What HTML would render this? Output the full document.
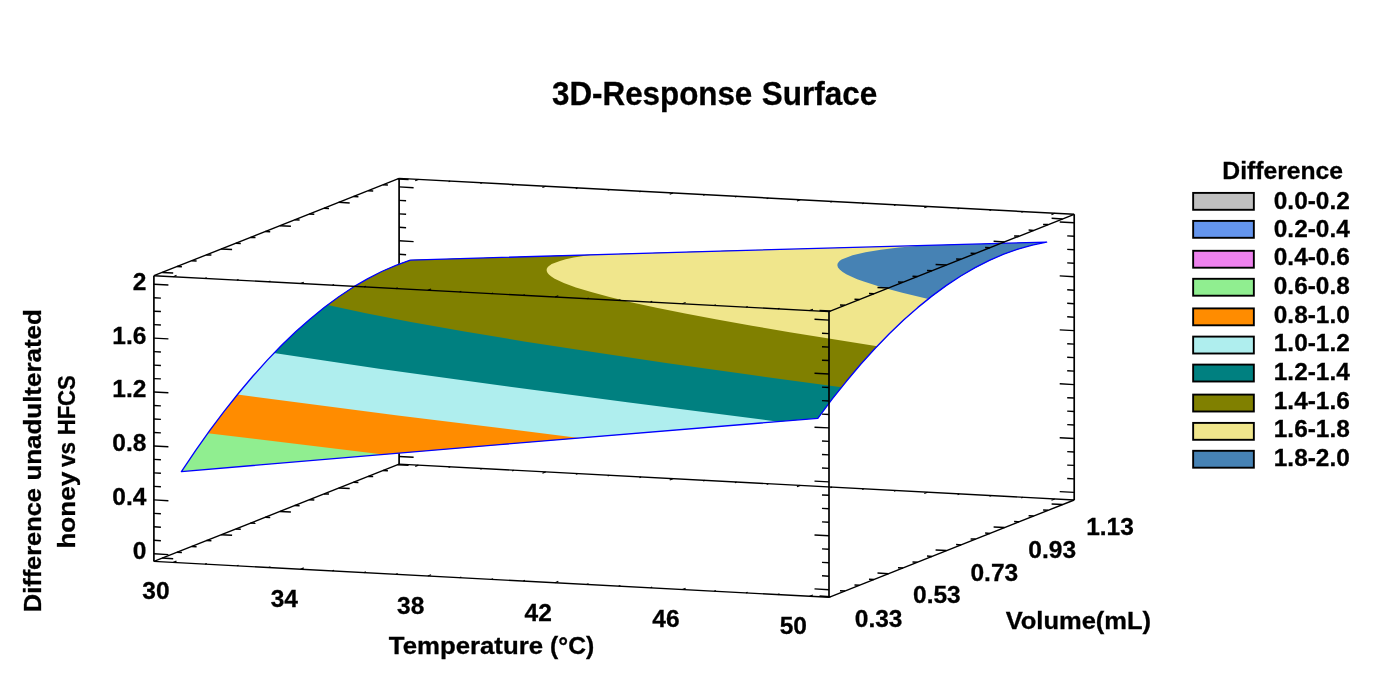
<!DOCTYPE html>
<html lang="en"><head><meta charset="utf-8"><title>3D-Response Surface</title>
<style>html,body{margin:0;padding:0;background:#fff}body{width:1383px;height:690px;overflow:hidden}svg{display:block}</style></head>
<body>
<svg width="1383" height="690" viewBox="0 0 1383 690">
<rect width="1383" height="690" fill="#fff"/>
<g stroke="#000" stroke-linecap="butt" fill="none"><line x1="399.1" y1="178.4" x2="399.1" y2="464.1" stroke-width="1.7"/><line x1="399.1" y1="456.5" x2="413.6" y2="457.3" stroke-width="1.4"/><line x1="399.1" y1="443" x2="406.1" y2="443.4" stroke-width="1.4"/><line x1="399.1" y1="429.5" x2="406.1" y2="429.9" stroke-width="1.4"/><line x1="399.1" y1="416.1" x2="406.1" y2="416.4" stroke-width="1.4"/><line x1="399.1" y1="402.6" x2="413.6" y2="403.4" stroke-width="1.4"/><line x1="399.1" y1="389.1" x2="406.1" y2="389.5" stroke-width="1.4"/><line x1="399.1" y1="375.6" x2="406.1" y2="376" stroke-width="1.4"/><line x1="399.1" y1="362.1" x2="406.1" y2="362.5" stroke-width="1.4"/><line x1="399.1" y1="348.7" x2="413.6" y2="349.4" stroke-width="1.4"/><line x1="399.1" y1="335.2" x2="406.1" y2="335.6" stroke-width="1.4"/><line x1="399.1" y1="321.7" x2="406.1" y2="322.1" stroke-width="1.4"/><line x1="399.1" y1="308.2" x2="406.1" y2="308.6" stroke-width="1.4"/><line x1="399.1" y1="294.7" x2="413.6" y2="295.5" stroke-width="1.4"/><line x1="399.1" y1="281.3" x2="406.1" y2="281.6" stroke-width="1.4"/><line x1="399.1" y1="267.8" x2="406.1" y2="268.2" stroke-width="1.4"/><line x1="399.1" y1="254.3" x2="406.1" y2="254.7" stroke-width="1.4"/><line x1="399.1" y1="240.8" x2="413.6" y2="241.6" stroke-width="1.4"/><line x1="399.1" y1="227.3" x2="406.1" y2="227.7" stroke-width="1.4"/><line x1="399.1" y1="213.9" x2="406.1" y2="214.2" stroke-width="1.4"/><line x1="399.1" y1="200.4" x2="406.1" y2="200.8" stroke-width="1.4"/><line x1="399.1" y1="186.9" x2="413.6" y2="187.7" stroke-width="1.4"/><line x1="399.1" y1="464.1" x2="1074.2" y2="500" stroke-width="1.4"/><line x1="418.4" y1="465.1" x2="415.2" y2="466.4" stroke-width="1.2"/><line x1="450.2" y1="466.8" x2="448.6" y2="467.5" stroke-width="1.2"/><line x1="482.1" y1="468.5" x2="480.4" y2="469.2" stroke-width="1.2"/><line x1="513.9" y1="470.2" x2="512.2" y2="470.9" stroke-width="1.2"/><line x1="545.7" y1="471.9" x2="542.4" y2="473.2" stroke-width="1.2"/><line x1="577.5" y1="473.6" x2="575.8" y2="474.3" stroke-width="1.2"/><line x1="609.3" y1="475.3" x2="607.7" y2="475.9" stroke-width="1.2"/><line x1="641.1" y1="477" x2="639.5" y2="477.6" stroke-width="1.2"/><line x1="673" y1="478.7" x2="669.7" y2="480" stroke-width="1.2"/><line x1="704.8" y1="480.4" x2="703.1" y2="481" stroke-width="1.2"/><line x1="736.6" y1="482.1" x2="734.9" y2="482.7" stroke-width="1.2"/><line x1="768.4" y1="483.7" x2="766.7" y2="484.4" stroke-width="1.2"/><line x1="800.2" y1="485.4" x2="797" y2="486.7" stroke-width="1.2"/><line x1="832.1" y1="487.1" x2="830.4" y2="487.8" stroke-width="1.2"/><line x1="863.9" y1="488.8" x2="862.2" y2="489.5" stroke-width="1.2"/><line x1="895.7" y1="490.5" x2="894" y2="491.2" stroke-width="1.2"/><line x1="927.5" y1="492.2" x2="924.3" y2="493.5" stroke-width="1.2"/><line x1="959.3" y1="493.9" x2="957.6" y2="494.6" stroke-width="1.2"/><line x1="991.1" y1="495.6" x2="989.5" y2="496.2" stroke-width="1.2"/><line x1="1023" y1="497.3" x2="1021.3" y2="497.9" stroke-width="1.2"/><line x1="1054.8" y1="499" x2="1051.5" y2="500.3" stroke-width="1.2"/><line x1="153.9" y1="561.4" x2="399.1" y2="464.1" stroke-width="1.4"/><line x1="162.2" y1="558.1" x2="173.2" y2="558.7" stroke-width="1.5"/><line x1="176.9" y1="552.3" x2="181.9" y2="552.5" stroke-width="1.5"/><line x1="191.7" y1="546.4" x2="196.6" y2="546.7" stroke-width="1.5"/><line x1="206.4" y1="540.6" x2="211.4" y2="540.8" stroke-width="1.5"/><line x1="221.1" y1="534.7" x2="232.1" y2="535.3" stroke-width="1.5"/><line x1="235.8" y1="528.9" x2="240.8" y2="529.2" stroke-width="1.5"/><line x1="250.5" y1="523.1" x2="255.5" y2="523.3" stroke-width="1.5"/><line x1="265.2" y1="517.2" x2="270.2" y2="517.5" stroke-width="1.5"/><line x1="279.9" y1="511.4" x2="290.9" y2="512" stroke-width="1.5"/><line x1="294.6" y1="505.5" x2="299.6" y2="505.8" stroke-width="1.5"/><line x1="309.3" y1="499.7" x2="314.3" y2="500" stroke-width="1.5"/><line x1="324" y1="493.9" x2="329" y2="494.1" stroke-width="1.5"/><line x1="338.7" y1="488" x2="349.7" y2="488.6" stroke-width="1.5"/><line x1="353.5" y1="482.2" x2="358.4" y2="482.5" stroke-width="1.5"/><line x1="368.2" y1="476.4" x2="373.2" y2="476.6" stroke-width="1.5"/><line x1="382.9" y1="470.5" x2="387.9" y2="470.8" stroke-width="1.5"/><line x1="397.6" y1="464.7" x2="408.6" y2="465.3" stroke-width="1.5"/><line x1="399.1" y1="178.4" x2="1074.2" y2="214.3" stroke-width="1.4"/><line x1="418.4" y1="179.4" x2="415.2" y2="180.7" stroke-width="1.2"/><line x1="450.2" y1="181.1" x2="448.6" y2="181.8" stroke-width="1.2"/><line x1="482.1" y1="182.8" x2="480.4" y2="183.5" stroke-width="1.2"/><line x1="513.9" y1="184.5" x2="512.2" y2="185.2" stroke-width="1.2"/><line x1="545.7" y1="186.2" x2="542.4" y2="187.5" stroke-width="1.2"/><line x1="577.5" y1="187.9" x2="575.8" y2="188.6" stroke-width="1.2"/><line x1="609.3" y1="189.6" x2="607.7" y2="190.2" stroke-width="1.2"/><line x1="641.1" y1="191.3" x2="639.5" y2="191.9" stroke-width="1.2"/><line x1="673" y1="193" x2="669.7" y2="194.3" stroke-width="1.2"/><line x1="704.8" y1="194.7" x2="703.1" y2="195.3" stroke-width="1.2"/><line x1="736.6" y1="196.4" x2="734.9" y2="197" stroke-width="1.2"/><line x1="768.4" y1="198" x2="766.7" y2="198.7" stroke-width="1.2"/><line x1="800.2" y1="199.7" x2="797" y2="201" stroke-width="1.2"/><line x1="832.1" y1="201.4" x2="830.4" y2="202.1" stroke-width="1.2"/><line x1="863.9" y1="203.1" x2="862.2" y2="203.8" stroke-width="1.2"/><line x1="895.7" y1="204.8" x2="894" y2="205.5" stroke-width="1.2"/><line x1="927.5" y1="206.5" x2="924.3" y2="207.8" stroke-width="1.2"/><line x1="959.3" y1="208.2" x2="957.6" y2="208.9" stroke-width="1.2"/><line x1="991.1" y1="209.9" x2="989.5" y2="210.5" stroke-width="1.2"/><line x1="1023" y1="211.6" x2="1021.3" y2="212.2" stroke-width="1.2"/><line x1="1054.8" y1="213.3" x2="1051.5" y2="214.6" stroke-width="1.2"/><line x1="153.9" y1="275.7" x2="399.1" y2="178.4" stroke-width="1.4"/><line x1="162.2" y1="272.4" x2="173.2" y2="273" stroke-width="1.5"/><line x1="176.9" y1="266.6" x2="181.9" y2="266.8" stroke-width="1.5"/><line x1="191.7" y1="260.7" x2="196.6" y2="261" stroke-width="1.5"/><line x1="206.4" y1="254.9" x2="211.4" y2="255.1" stroke-width="1.5"/><line x1="221.1" y1="249" x2="232.1" y2="249.6" stroke-width="1.5"/><line x1="235.8" y1="243.2" x2="240.8" y2="243.5" stroke-width="1.5"/><line x1="250.5" y1="237.4" x2="255.5" y2="237.6" stroke-width="1.5"/><line x1="265.2" y1="231.5" x2="270.2" y2="231.8" stroke-width="1.5"/><line x1="279.9" y1="225.7" x2="290.9" y2="226.3" stroke-width="1.5"/><line x1="294.6" y1="219.8" x2="299.6" y2="220.1" stroke-width="1.5"/><line x1="309.3" y1="214" x2="314.3" y2="214.3" stroke-width="1.5"/><line x1="324" y1="208.2" x2="329" y2="208.4" stroke-width="1.5"/><line x1="338.7" y1="202.3" x2="349.7" y2="202.9" stroke-width="1.5"/><line x1="353.5" y1="196.5" x2="358.4" y2="196.8" stroke-width="1.5"/><line x1="368.2" y1="190.7" x2="373.2" y2="190.9" stroke-width="1.5"/><line x1="382.9" y1="184.8" x2="387.9" y2="185.1" stroke-width="1.5"/><line x1="397.6" y1="179" x2="408.6" y2="179.6" stroke-width="1.5"/><line x1="1074.2" y1="214.3" x2="1074.2" y2="500" stroke-width="1.7"/><line x1="1074.2" y1="492.4" x2="1059.7" y2="491.6" stroke-width="1.4"/><line x1="1074.2" y1="478.9" x2="1067.2" y2="478.5" stroke-width="1.4"/><line x1="1074.2" y1="465.4" x2="1067.2" y2="465.1" stroke-width="1.4"/><line x1="1074.2" y1="452" x2="1067.2" y2="451.6" stroke-width="1.4"/><line x1="1074.2" y1="438.5" x2="1059.7" y2="437.7" stroke-width="1.4"/><line x1="1074.2" y1="425" x2="1067.2" y2="424.6" stroke-width="1.4"/><line x1="1074.2" y1="411.5" x2="1067.2" y2="411.1" stroke-width="1.4"/><line x1="1074.2" y1="398" x2="1067.2" y2="397.7" stroke-width="1.4"/><line x1="1074.2" y1="384.6" x2="1059.7" y2="383.8" stroke-width="1.4"/><line x1="1074.2" y1="371.1" x2="1067.2" y2="370.7" stroke-width="1.4"/><line x1="1074.2" y1="357.6" x2="1067.2" y2="357.2" stroke-width="1.4"/><line x1="1074.2" y1="344.1" x2="1067.2" y2="343.7" stroke-width="1.4"/><line x1="1074.2" y1="330.6" x2="1059.7" y2="329.9" stroke-width="1.4"/><line x1="1074.2" y1="317.2" x2="1067.2" y2="316.8" stroke-width="1.4"/><line x1="1074.2" y1="303.7" x2="1067.2" y2="303.3" stroke-width="1.4"/><line x1="1074.2" y1="290.2" x2="1067.2" y2="289.8" stroke-width="1.4"/><line x1="1074.2" y1="276.7" x2="1059.7" y2="275.9" stroke-width="1.4"/><line x1="1074.2" y1="263.2" x2="1067.2" y2="262.9" stroke-width="1.4"/><line x1="1074.2" y1="249.8" x2="1067.2" y2="249.4" stroke-width="1.4"/><line x1="1074.2" y1="236.3" x2="1067.2" y2="235.9" stroke-width="1.4"/><line x1="1074.2" y1="222.8" x2="1059.7" y2="222" stroke-width="1.4"/><line x1="153.9" y1="561.4" x2="829" y2="597.3" stroke-width="1.4"/><line x1="173.3" y1="562.4" x2="176.5" y2="561.1" stroke-width="1.2"/><line x1="205.1" y1="564.1" x2="206.8" y2="563.5" stroke-width="1.2"/><line x1="236.9" y1="565.8" x2="238.6" y2="565.2" stroke-width="1.2"/><line x1="268.7" y1="567.5" x2="270.4" y2="566.8" stroke-width="1.2"/><line x1="300.5" y1="569.2" x2="303.8" y2="567.9" stroke-width="1.2"/><line x1="332.4" y1="570.9" x2="334" y2="570.2" stroke-width="1.2"/><line x1="364.2" y1="572.6" x2="365.9" y2="571.9" stroke-width="1.2"/><line x1="396" y1="574.3" x2="397.7" y2="573.6" stroke-width="1.2"/><line x1="427.8" y1="576" x2="431.1" y2="574.7" stroke-width="1.2"/><line x1="459.6" y1="577.7" x2="461.3" y2="577" stroke-width="1.2"/><line x1="491.5" y1="579.4" x2="493.1" y2="578.7" stroke-width="1.2"/><line x1="523.3" y1="581" x2="524.9" y2="580.4" stroke-width="1.2"/><line x1="555.1" y1="582.7" x2="558.3" y2="581.4" stroke-width="1.2"/><line x1="586.9" y1="584.4" x2="588.6" y2="583.8" stroke-width="1.2"/><line x1="618.7" y1="586.1" x2="620.4" y2="585.5" stroke-width="1.2"/><line x1="650.5" y1="587.8" x2="652.2" y2="587.1" stroke-width="1.2"/><line x1="682.4" y1="589.5" x2="685.6" y2="588.2" stroke-width="1.2"/><line x1="714.2" y1="591.2" x2="715.8" y2="590.5" stroke-width="1.2"/><line x1="746" y1="592.9" x2="747.7" y2="592.2" stroke-width="1.2"/><line x1="777.8" y1="594.6" x2="779.5" y2="593.9" stroke-width="1.2"/><line x1="809.6" y1="596.3" x2="812.9" y2="595" stroke-width="1.2"/><line x1="829" y1="597.3" x2="1074.2" y2="500" stroke-width="1.4"/><line x1="830.5" y1="596.7" x2="819.5" y2="596.1" stroke-width="1.5"/><line x1="845" y1="591" x2="840" y2="590.7" stroke-width="1.5"/><line x1="859.5" y1="585.2" x2="854.5" y2="584.9" stroke-width="1.5"/><line x1="874" y1="579.4" x2="869" y2="579.2" stroke-width="1.5"/><line x1="888.5" y1="573.7" x2="877.5" y2="573.1" stroke-width="1.5"/><line x1="903" y1="567.9" x2="898" y2="567.7" stroke-width="1.5"/><line x1="917.5" y1="562.2" x2="912.5" y2="561.9" stroke-width="1.5"/><line x1="932" y1="556.4" x2="927" y2="556.1" stroke-width="1.5"/><line x1="946.5" y1="550.6" x2="935.6" y2="550.1" stroke-width="1.5"/><line x1="961.1" y1="544.9" x2="956.1" y2="544.6" stroke-width="1.5"/><line x1="975.6" y1="539.1" x2="970.6" y2="538.9" stroke-width="1.5"/><line x1="990.1" y1="533.4" x2="985.1" y2="533.1" stroke-width="1.5"/><line x1="1004.6" y1="527.6" x2="993.6" y2="527" stroke-width="1.5"/><line x1="1019.1" y1="521.8" x2="1014.1" y2="521.6" stroke-width="1.5"/><line x1="1033.6" y1="516.1" x2="1028.6" y2="515.8" stroke-width="1.5"/><line x1="1048.1" y1="510.3" x2="1043.1" y2="510.1" stroke-width="1.5"/><line x1="1062.6" y1="504.6" x2="1051.6" y2="504" stroke-width="1.5"/><line x1="153.9" y1="275.7" x2="153.9" y2="561.4" stroke-width="1.7"/><line x1="153.9" y1="553.8" x2="168.4" y2="554.6" stroke-width="1.4"/><line x1="153.9" y1="540.3" x2="160.9" y2="540.7" stroke-width="1.4"/><line x1="153.9" y1="526.8" x2="160.9" y2="527.2" stroke-width="1.4"/><line x1="153.9" y1="513.4" x2="160.9" y2="513.7" stroke-width="1.4"/><line x1="153.9" y1="499.9" x2="168.4" y2="500.7" stroke-width="1.4"/><line x1="153.9" y1="486.4" x2="160.9" y2="486.8" stroke-width="1.4"/><line x1="153.9" y1="472.9" x2="160.9" y2="473.3" stroke-width="1.4"/><line x1="153.9" y1="459.4" x2="160.9" y2="459.8" stroke-width="1.4"/><line x1="153.9" y1="446" x2="168.4" y2="446.7" stroke-width="1.4"/><line x1="153.9" y1="432.5" x2="160.9" y2="432.9" stroke-width="1.4"/><line x1="153.9" y1="419" x2="160.9" y2="419.4" stroke-width="1.4"/><line x1="153.9" y1="405.5" x2="160.9" y2="405.9" stroke-width="1.4"/><line x1="153.9" y1="392" x2="168.4" y2="392.8" stroke-width="1.4"/><line x1="153.9" y1="378.6" x2="160.9" y2="378.9" stroke-width="1.4"/><line x1="153.9" y1="365.1" x2="160.9" y2="365.5" stroke-width="1.4"/><line x1="153.9" y1="351.6" x2="160.9" y2="352" stroke-width="1.4"/><line x1="153.9" y1="338.1" x2="168.4" y2="338.9" stroke-width="1.4"/><line x1="153.9" y1="324.6" x2="160.9" y2="325" stroke-width="1.4"/><line x1="153.9" y1="311.2" x2="160.9" y2="311.5" stroke-width="1.4"/><line x1="153.9" y1="297.7" x2="160.9" y2="298.1" stroke-width="1.4"/><line x1="153.9" y1="284.2" x2="168.4" y2="285" stroke-width="1.4"/></g>
<g><polygon points="181.4,471.6 499.6,444.6 817.8,418.3 832.1,399.2 846.4,381.3 860.7,364.3 875,348.5 889.3,333.7 903.6,320.1 917.9,307.4 932.2,295.9 946.5,285.4 960.8,276 975.1,267.7 989.4,260.4 1003.7,254.2 1018,249.1 1032.3,245.1 1046.6,242.1 728.5,250.8 410.3,260.1 396,265.3 381.7,271.5 367.4,278.8 353.1,287.2 338.8,296.7 324.5,307.3 310.2,318.9 295.9,331.6 281.6,345.3 267.3,360.1 253,376 238.7,393 224.3,411.1 210,430.2 195.7,450.4" fill="#90EE90"/><polygon points="207.8,433.3 383.5,454.4 817.8,418.3 833.3,397.7 844.9,383 860.5,364.6 876,347.5 887.6,335.4 903.1,320.5 914.8,310.1 930.3,297.4 945.8,285.9 957.4,278.1 972.9,268.9 988.5,260.9 1004,254.1 1019.5,248.7 1027.2,246.4 1035,244.4 1046.6,242.1 728.5,250.8 410.3,260.1 400,263.7 386.3,269.4 376,274.3 362.2,281.7 348.5,290.2 338.2,297.1 324.5,307.2 310.7,318.4 297,330.5 286.7,340.2 273,354.1 259.3,368.9 245.5,384.7 231.8,401.5 221.5,414.8" fill="#FF8C00"/><polygon points="237.4,394.6 397.8,415.4 579.2,437.9 817.8,418.3 833.3,397.7 844.9,383 860.5,364.6 876,347.5 887.6,335.4 903.1,320.5 914.8,310.1 930.3,297.4 945.8,285.9 957.4,278.1 972.9,268.9 988.5,260.9 1004,254.1 1019.5,248.7 1027.2,246.4 1035,244.4 1046.6,242.1 728.5,250.8 410.3,260.1 401.5,263.1 389.8,267.9 378,273.3 366.3,279.4 354.6,286.3 345.8,291.9 334.1,300.1 325.3,306.6 316.5,313.6 304.8,323.5 293,334.2 281.3,345.5 269.6,357.6 257.9,370.4 249.1,380.5" fill="#AFEEEE"/><polygon points="273.9,353.1 379.1,368.7 495.3,384.8 629.1,402.6 776.6,421.4 778,421.5 817.8,418.3 833.3,397.7 844.9,383 860.5,364.6 876,347.5 887.6,335.4 903.1,320.5 914.8,310.1 930.3,297.4 945.8,285.9 957.4,278.1 972.9,268.9 988.5,260.9 1004,254.1 1019.5,248.7 1027.2,246.4 1035,244.4 1046.6,242.1 728.5,250.8 410.3,260.1 401,263.3 391.8,267 382.5,271.1 375.6,274.5 359.4,283.4 350.2,289.1 340.9,295.2 324.7,307 308.6,320.2 292.4,334.8 283.1,343.8" fill="#008080"/><polygon points="327.6,304.9 366,313.2 410.8,322 463.1,331.3 524.2,341.4 592.9,352.1 667.8,363.2 750.2,374.8 841.5,387.3 851.9,374.6 865.8,358.5 876.3,347.2 890.2,332.9 904.1,319.6 914.5,310.3 928.4,298.9 942.3,288.4 956.2,278.9 970.1,270.5 984,263 994.5,258.1 1008.4,252.4 1022.3,247.8 1032.7,245 1046.6,242.1 728.5,250.8 410.3,260.1 400.5,263.5 389.3,268.1 379.5,272.6 369.6,277.6 358.4,284 348.6,290.1 338.8,296.7" fill="#808000"/><polygon points="551.7,264.1 549,265.9 547.8,267.1 546.7,269 546.7,271.1 547.6,272.9 548.9,274.5 551.3,276.5 554.7,278.7 563.8,283 575.9,287.5 591.2,292.1 609.5,297 630.9,302.2 656.5,307.7 685.2,313.5 717,319.6 751.8,325.8 789.7,332.2 877.2,346.2 888.7,334.4 897.3,326 908.8,315.4 920.3,305.4 931.8,296.2 943.3,287.7 954.7,279.9 963.4,274.5 972,269.4 983.5,263.3 994.9,257.9 1003.6,254.3 1012.2,251.1 1023.7,247.4 1035.1,244.4 1046.6,242.1 819.1,248.3 591.6,254.7 573.7,257.6 565.7,259.3 559.9,260.9" fill="#F0E68C"/><polygon points="841.6,259.6 839.5,261.1 837.8,263.2 837.5,264.1 837.4,265.6 838,267.5 839.7,269.6 842.7,272 846.3,274.2 851.1,276.6 857.2,279.2 863.8,281.6 880.8,287 902.3,292.8 928.3,298.9 944.4,286.9 958.4,277.5 972.4,269.2 988.5,260.9 1002.5,254.7 1010.5,251.7 1018.6,248.9 1032.6,245 1046.6,242.1 922.3,245.5 898.9,247.6 880.8,249.8 865.5,252.2 852.6,255.2" fill="#4682B4"/><polygon points="181.4,471.6 499.6,444.6 817.8,418.3 832.1,399.2 846.4,381.3 860.7,364.3 875,348.5 889.3,333.7 903.6,320.1 917.9,307.4 932.2,295.9 946.5,285.4 960.8,276 975.1,267.7 989.4,260.4 1003.7,254.2 1018,249.1 1032.3,245.1 1046.6,242.1 728.5,250.8 410.3,260.1 396,265.3 381.7,271.5 367.4,278.8 353.1,287.2 338.8,296.7 324.5,307.3 310.2,318.9 295.9,331.6 281.6,345.3 267.3,360.1 253,376 238.7,393 224.3,411.1 210,430.2 195.7,450.4" fill="none" stroke="#0000FF" stroke-width="1.35" stroke-linejoin="round"/></g>
<g stroke="#000" fill="none"><line x1="153.9" y1="275.7" x2="829" y2="311.6" stroke-width="1.4"/><line x1="173.3" y1="276.7" x2="176.5" y2="275.4" stroke-width="1.2"/><line x1="205.1" y1="278.4" x2="206.8" y2="277.8" stroke-width="1.2"/><line x1="236.9" y1="280.1" x2="238.6" y2="279.5" stroke-width="1.2"/><line x1="268.7" y1="281.8" x2="270.4" y2="281.1" stroke-width="1.2"/><line x1="300.5" y1="283.5" x2="303.8" y2="282.2" stroke-width="1.2"/><line x1="332.4" y1="285.2" x2="334" y2="284.5" stroke-width="1.2"/><line x1="364.2" y1="286.9" x2="365.9" y2="286.2" stroke-width="1.2"/><line x1="396" y1="288.6" x2="397.7" y2="287.9" stroke-width="1.2"/><line x1="427.8" y1="290.3" x2="431.1" y2="289" stroke-width="1.2"/><line x1="459.6" y1="292" x2="461.3" y2="291.3" stroke-width="1.2"/><line x1="491.5" y1="293.7" x2="493.1" y2="293" stroke-width="1.2"/><line x1="523.3" y1="295.3" x2="524.9" y2="294.7" stroke-width="1.2"/><line x1="555.1" y1="297" x2="558.3" y2="295.7" stroke-width="1.2"/><line x1="586.9" y1="298.7" x2="588.6" y2="298.1" stroke-width="1.2"/><line x1="618.7" y1="300.4" x2="620.4" y2="299.8" stroke-width="1.2"/><line x1="650.5" y1="302.1" x2="652.2" y2="301.4" stroke-width="1.2"/><line x1="682.4" y1="303.8" x2="685.6" y2="302.5" stroke-width="1.2"/><line x1="714.2" y1="305.5" x2="715.8" y2="304.8" stroke-width="1.2"/><line x1="746" y1="307.2" x2="747.7" y2="306.5" stroke-width="1.2"/><line x1="777.8" y1="308.9" x2="779.5" y2="308.2" stroke-width="1.2"/><line x1="809.6" y1="310.6" x2="812.9" y2="309.3" stroke-width="1.2"/><line x1="829" y1="311.6" x2="1074.2" y2="214.3" stroke-width="1.4"/><line x1="830.5" y1="311" x2="819.5" y2="310.4" stroke-width="1.5"/><line x1="845" y1="305.3" x2="840" y2="305" stroke-width="1.5"/><line x1="859.5" y1="299.5" x2="854.5" y2="299.2" stroke-width="1.5"/><line x1="874" y1="293.7" x2="869" y2="293.5" stroke-width="1.5"/><line x1="888.5" y1="288" x2="877.5" y2="287.4" stroke-width="1.5"/><line x1="903" y1="282.2" x2="898" y2="282" stroke-width="1.5"/><line x1="917.5" y1="276.5" x2="912.5" y2="276.2" stroke-width="1.5"/><line x1="932" y1="270.7" x2="927" y2="270.4" stroke-width="1.5"/><line x1="946.5" y1="264.9" x2="935.6" y2="264.4" stroke-width="1.5"/><line x1="961.1" y1="259.2" x2="956.1" y2="258.9" stroke-width="1.5"/><line x1="975.6" y1="253.4" x2="970.6" y2="253.2" stroke-width="1.5"/><line x1="990.1" y1="247.7" x2="985.1" y2="247.4" stroke-width="1.5"/><line x1="1004.6" y1="241.9" x2="993.6" y2="241.3" stroke-width="1.5"/><line x1="1019.1" y1="236.1" x2="1014.1" y2="235.9" stroke-width="1.5"/><line x1="1033.6" y1="230.4" x2="1028.6" y2="230.1" stroke-width="1.5"/><line x1="1048.1" y1="224.6" x2="1043.1" y2="224.4" stroke-width="1.5"/><line x1="1062.6" y1="218.9" x2="1051.6" y2="218.3" stroke-width="1.5"/><line x1="829" y1="311.6" x2="829" y2="597.3" stroke-width="1.7"/><line x1="829" y1="589.7" x2="814.5" y2="588.9" stroke-width="1.4"/><line x1="829" y1="576.2" x2="822" y2="575.8" stroke-width="1.4"/><line x1="829" y1="562.7" x2="822" y2="562.4" stroke-width="1.4"/><line x1="829" y1="549.3" x2="822" y2="548.9" stroke-width="1.4"/><line x1="829" y1="535.8" x2="814.5" y2="535" stroke-width="1.4"/><line x1="829" y1="522.3" x2="822" y2="521.9" stroke-width="1.4"/><line x1="829" y1="508.8" x2="822" y2="508.4" stroke-width="1.4"/><line x1="829" y1="495.3" x2="822" y2="495" stroke-width="1.4"/><line x1="829" y1="481.9" x2="814.5" y2="481.1" stroke-width="1.4"/><line x1="829" y1="468.4" x2="822" y2="468" stroke-width="1.4"/><line x1="829" y1="454.9" x2="822" y2="454.5" stroke-width="1.4"/><line x1="829" y1="441.4" x2="822" y2="441" stroke-width="1.4"/><line x1="829" y1="427.9" x2="814.5" y2="427.2" stroke-width="1.4"/><line x1="829" y1="414.5" x2="822" y2="414.1" stroke-width="1.4"/><line x1="829" y1="401" x2="822" y2="400.6" stroke-width="1.4"/><line x1="829" y1="387.5" x2="822" y2="387.1" stroke-width="1.4"/><line x1="829" y1="374" x2="814.5" y2="373.2" stroke-width="1.4"/><line x1="829" y1="360.5" x2="822" y2="360.2" stroke-width="1.4"/><line x1="829" y1="347.1" x2="822" y2="346.7" stroke-width="1.4"/><line x1="829" y1="333.6" x2="822" y2="333.2" stroke-width="1.4"/><line x1="829" y1="320.1" x2="814.5" y2="319.3" stroke-width="1.4"/></g>
<rect x="1193.15" y="192.9" width="60.7" height="16.9" fill="#C0C0C0" stroke="#000" stroke-width="1.9"/>
<rect x="1193.15" y="220.9" width="60.7" height="16.9" fill="#6495ED" stroke="#000" stroke-width="1.9"/>
<rect x="1193.15" y="250.8" width="60.7" height="16.9" fill="#EE82EE" stroke="#000" stroke-width="1.9"/>
<rect x="1193.15" y="278.8" width="60.7" height="16.9" fill="#90EE90" stroke="#000" stroke-width="1.9"/>
<rect x="1193.15" y="308.4" width="60.7" height="16.9" fill="#FF8C00" stroke="#000" stroke-width="1.9"/>
<rect x="1193.15" y="336.6" width="60.7" height="16.9" fill="#AFEEEE" stroke="#000" stroke-width="1.9"/>
<rect x="1193.15" y="364.6" width="60.7" height="16.9" fill="#008080" stroke="#000" stroke-width="1.9"/>
<rect x="1193.15" y="394.6" width="60.7" height="16.9" fill="#808000" stroke="#000" stroke-width="1.9"/>
<rect x="1193.15" y="422.9" width="60.7" height="16.9" fill="#F0E68C" stroke="#000" stroke-width="1.9"/>
<rect x="1193.15" y="450.8" width="60.7" height="16.9" fill="#4682B4" stroke="#000" stroke-width="1.9"/>
<g font-family="'Liberation Sans', sans-serif" font-weight="bold" fill="#000" stroke="#000" stroke-width="0.3"><text x="552" y="104.8" font-size="32.5" textLength="200.3" lengthAdjust="spacingAndGlyphs">3D-Response</text><text x="761.8" y="104.8" font-size="32.5" textLength="115.4" lengthAdjust="spacingAndGlyphs">Surface</text><text x="388.8" y="654.4" font-size="24" textLength="154.3" lengthAdjust="spacingAndGlyphs">Temperature</text><text x="550.1" y="654.4" font-size="24" textLength="44.1" lengthAdjust="spacingAndGlyphs">(°C)</text><text x="1005.7" y="628.6" font-size="24" textLength="145.4" lengthAdjust="spacingAndGlyphs">Volume(mL)</text><text transform="translate(40.5,610.5) rotate(-90)" x="-1.7" y="0" font-size="24" textLength="124.1" lengthAdjust="spacingAndGlyphs">Difference</text><text transform="translate(40.5,610.5) rotate(-90)" x="129.9" y="0" font-size="24" textLength="171.4" lengthAdjust="spacingAndGlyphs">unadulterated</text><text transform="translate(74.9,546.8) rotate(-90)" x="-1.8" y="0" font-size="24" textLength="77" lengthAdjust="spacingAndGlyphs">honey</text><text transform="translate(74.9,546.8) rotate(-90)" x="79.8" y="0" font-size="24" textLength="25.1" lengthAdjust="spacingAndGlyphs">vs</text><text transform="translate(74.9,546.8) rotate(-90)" x="111.5" y="0" font-size="24" textLength="60.1" lengthAdjust="spacingAndGlyphs">HFCS</text><text x="1222.3" y="179.1" font-size="24.7" text-anchor="start">Difference</text><text x="1273.8" y="208.8" font-size="24.4" text-anchor="start">0.0-0.2</text><text x="1273.8" y="237" font-size="24.4" text-anchor="start">0.2-0.4</text><text x="1273.8" y="264.6" font-size="24.4" text-anchor="start">0.4-0.6</text><text x="1273.8" y="293.6" font-size="24.4" text-anchor="start">0.6-0.8</text><text x="1273.8" y="322.7" font-size="24.4" text-anchor="start">0.8-1.0</text><text x="1273.8" y="351.4" font-size="24.4" text-anchor="start">1.0-1.2</text><text x="1273.8" y="379.6" font-size="24.4" text-anchor="start">1.2-1.4</text><text x="1273.8" y="409" font-size="24.4" text-anchor="start">1.4-1.6</text><text x="1273.8" y="437.3" font-size="24.4" text-anchor="start">1.6-1.8</text><text x="1273.8" y="465.5" font-size="24.4" text-anchor="start">1.8-2.0</text><text x="146.4" y="559.2" font-size="24.5" text-anchor="end">0</text><text x="146.4" y="505.3" font-size="24.5" text-anchor="end">0.4</text><text x="146.4" y="451.4" font-size="24.5" text-anchor="end">0.8</text><text x="146.4" y="397.4" font-size="24.5" text-anchor="end">1.2</text><text x="146.4" y="343.5" font-size="24.5" text-anchor="end">1.6</text><text x="146.4" y="289.6" font-size="24.5" text-anchor="end">2</text><text x="155.9" y="599.3" font-size="24.5" text-anchor="middle">30</text><text x="284.3" y="607.2" font-size="24.5" text-anchor="middle">34</text><text x="410.7" y="613.6" font-size="24.5" text-anchor="middle">38</text><text x="538.2" y="620.6" font-size="24.5" text-anchor="middle">42</text><text x="665.9" y="627.2" font-size="24.5" text-anchor="middle">46</text><text x="793.3" y="634" font-size="24.5" text-anchor="middle">50</text><text x="878.6" y="626.5" font-size="24.5" text-anchor="middle">0.33</text><text x="936.9" y="602.8" font-size="24.5" text-anchor="middle">0.53</text><text x="994.3" y="581.1" font-size="24.5" text-anchor="middle">0.73</text><text x="1052.2" y="558.1" font-size="24.5" text-anchor="middle">0.93</text><text x="1110" y="534.6" font-size="24.5" text-anchor="middle">1.13</text></g>
</svg>
</body></html>
